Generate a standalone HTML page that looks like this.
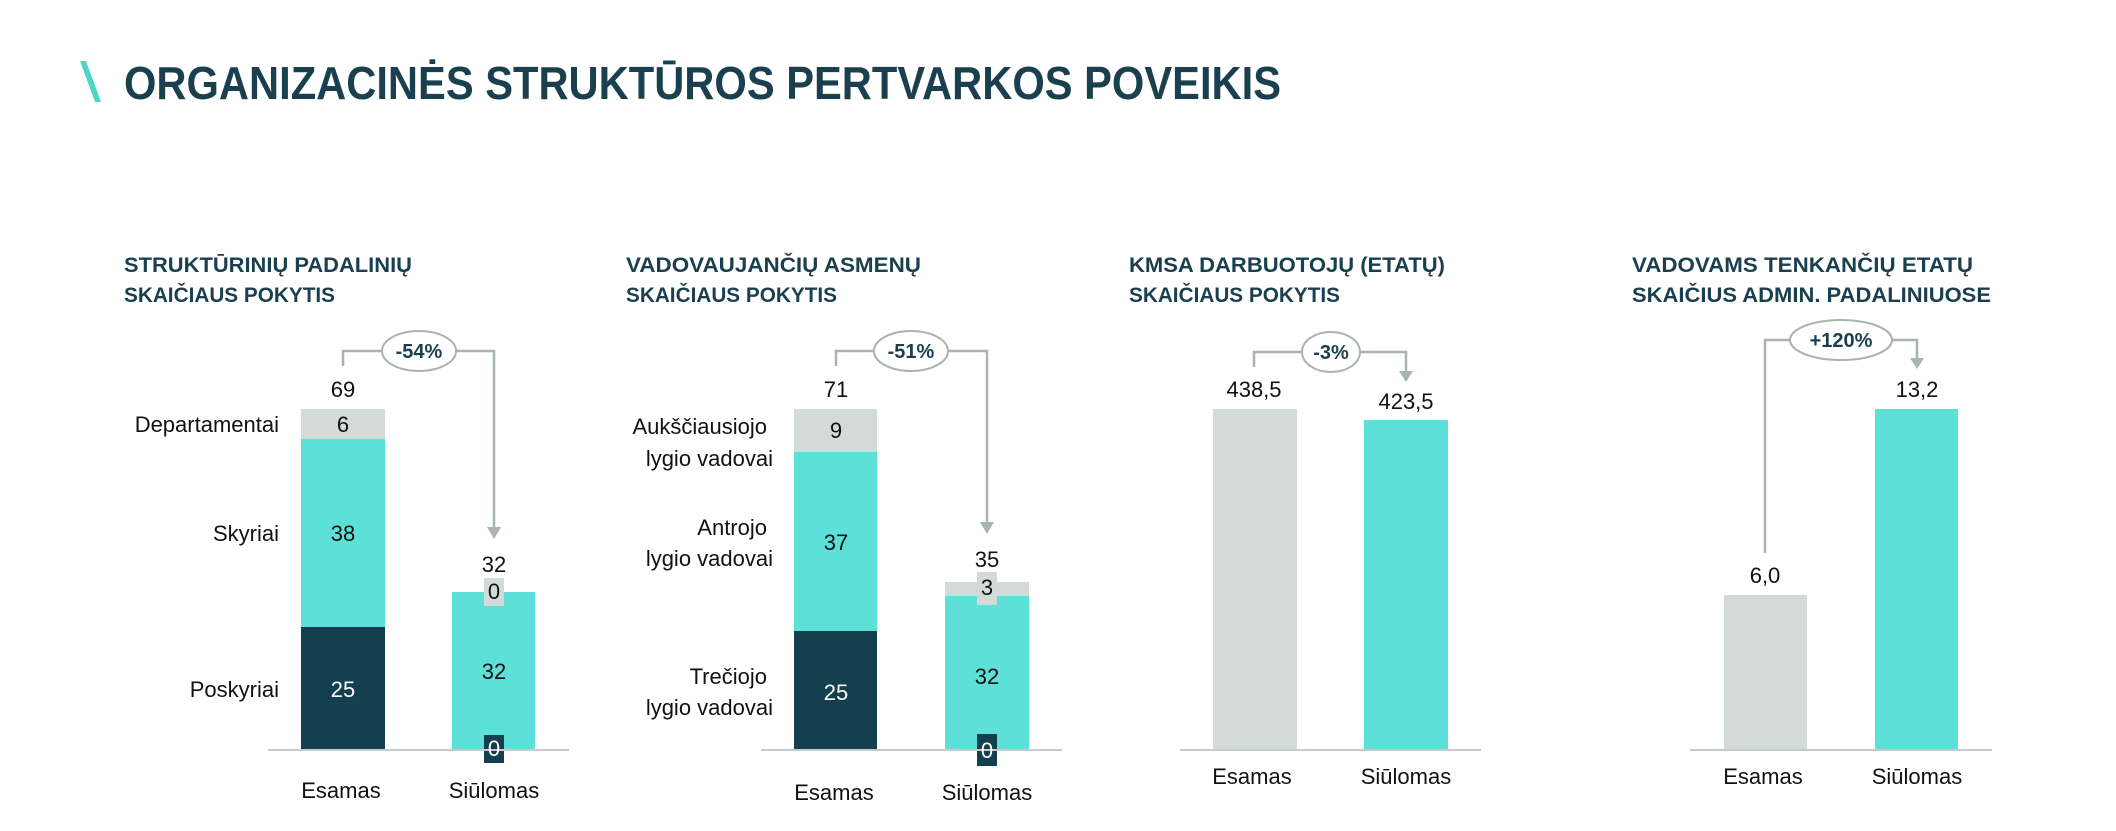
<!DOCTYPE html>
<html><head><meta charset="utf-8"><style>
html,body{margin:0;padding:0;background:#fff;overflow:hidden;}
svg{display:block;font-family:"Liberation Sans",sans-serif;}
.t{fill:#1a3f4e;font-weight:bold;}
.l{fill:#111;font-size:22px;}
.w{fill:#fff;font-size:22px;}
.c{stroke:#a9b3b1;stroke-width:2.5;fill:none;}
</style></head><body>
<svg width="2116" height="831" viewBox="0 0 2116 831">
<polygon points="80,61 86,61 101,102 95,102" fill="#4fd6c9"/>
<text class="t" x="124" y="99" font-size="46" textLength="1157" lengthAdjust="spacingAndGlyphs">ORGANIZACINĖS STRUKTŪROS PERTVARKOS POVEIKIS</text>

<g class="t" font-size="21">
<text x="124" y="272" textLength="288" lengthAdjust="spacingAndGlyphs">STRUKTŪRINIŲ PADALINIŲ</text>
<text x="124" y="302" textLength="211" lengthAdjust="spacingAndGlyphs">SKAIČIAUS POKYTIS</text>
<text x="626" y="272" textLength="295" lengthAdjust="spacingAndGlyphs">VADOVAUJANČIŲ ASMENŲ</text>
<text x="626" y="302" textLength="211" lengthAdjust="spacingAndGlyphs">SKAIČIAUS POKYTIS</text>
<text x="1129" y="272" textLength="316" lengthAdjust="spacingAndGlyphs">KMSA DARBUOTOJŲ (ETATŲ)</text>
<text x="1129" y="302" textLength="211" lengthAdjust="spacingAndGlyphs">SKAIČIAUS POKYTIS</text>
<text x="1632" y="272" textLength="341" lengthAdjust="spacingAndGlyphs">VADOVAMS TENKANČIŲ ETATŲ</text>
<text x="1632" y="302" textLength="359" lengthAdjust="spacingAndGlyphs">SKAIČIUS ADMIN. PADALINIUOSE</text>
</g>

<!-- Chart 1 -->
<rect x="301" y="409" width="84" height="30" fill="#d3dbd9"/>
<rect x="301" y="439" width="84" height="188" fill="#5ce0d8"/>
<rect x="301" y="627" width="84" height="123" fill="#133f4e"/>
<rect x="452" y="592" width="83" height="158" fill="#5ce0d8"/>
<rect x="484" y="578" width="20" height="28" fill="#d3dbd9"/>
<rect x="484" y="735" width="20" height="28" fill="#133f4e"/>
<line x1="268" y1="750" x2="569" y2="750" stroke="#c5cbca" stroke-width="2"/>
<polyline class="c" points="343,366 343,351 494,351 494,530"/>
<polygon points="487,527 501,527 494,539" fill="#a9b3b1"/>
<ellipse cx="419" cy="351" rx="37" ry="20" fill="#fff" stroke="#a9b3b1" stroke-width="2"/>
<text class="t" x="419" y="358" font-size="20" text-anchor="middle">-54%</text>
<g class="l" text-anchor="middle">
<text x="343" y="397">69</text><text x="343" y="432">6</text><text x="343" y="541">38</text>
<text x="494" y="572">32</text><text x="494" y="599">0</text><text x="494" y="679">32</text>
<text x="341" y="798">Esamas</text><text x="494" y="798">Siūlomas</text>
</g>
<text class="w" x="343" y="697" text-anchor="middle">25</text>
<text class="w" x="494" y="756" text-anchor="middle">0</text>
<g class="l" text-anchor="end">
<text x="279" y="432">Departamentai</text><text x="279" y="541">Skyriai</text><text x="279" y="697">Poskyriai</text>
</g>

<!-- Chart 2 -->
<rect x="794" y="409" width="83" height="43" fill="#d3dbd9"/>
<rect x="794" y="452" width="83" height="179" fill="#5ce0d8"/>
<rect x="794" y="631" width="83" height="119" fill="#133f4e"/>
<rect x="945" y="582" width="84" height="14" fill="#d3dbd9"/>
<rect x="945" y="596" width="84" height="154" fill="#5ce0d8"/>
<rect x="977" y="572" width="20" height="33" fill="#d3dbd9"/>
<rect x="977" y="734" width="20" height="32" fill="#133f4e"/>
<line x1="761" y1="750" x2="1062" y2="750" stroke="#c5cbca" stroke-width="2"/>
<polyline class="c" points="836,366 836,351 987,351 987,525"/>
<polygon points="980,522 994,522 987,534" fill="#a9b3b1"/>
<ellipse cx="911" cy="351" rx="37" ry="20" fill="#fff" stroke="#a9b3b1" stroke-width="2"/>
<text class="t" x="911" y="358" font-size="20" text-anchor="middle">-51%</text>
<g class="l" text-anchor="middle">
<text x="836" y="397">71</text><text x="836" y="438">9</text><text x="836" y="550">37</text>
<text x="987" y="567">35</text><text x="987" y="595">3</text><text x="987" y="684">32</text>
<text x="834" y="800">Esamas</text><text x="987" y="800">Siūlomas</text>
</g>
<text class="w" x="836" y="700" text-anchor="middle">25</text>
<text class="w" x="987" y="758" text-anchor="middle">0</text>
<g class="l" text-anchor="end">
<text x="767" y="434">Aukščiausiojo</text><text x="773" y="466">lygio vadovai</text>
<text x="767" y="535">Antrojo</text><text x="773" y="566">lygio vadovai</text>
<text x="767" y="684">Trečiojo</text><text x="773" y="715">lygio vadovai</text>
</g>

<!-- Chart 3 -->
<rect x="1213" y="409" width="84" height="341" fill="#d3dbd9"/>
<rect x="1364" y="420" width="84" height="330" fill="#5ce0d8"/>
<line x1="1180" y1="750" x2="1481" y2="750" stroke="#c5cbca" stroke-width="2"/>
<polyline class="c" points="1254,367 1254,352 1406,352 1406,374"/>
<polygon points="1399,371 1413,371 1406,382" fill="#a9b3b1"/>
<ellipse cx="1331" cy="352" rx="29" ry="20" fill="#fff" stroke="#a9b3b1" stroke-width="2"/>
<text class="t" x="1331" y="359" font-size="20" text-anchor="middle">-3%</text>
<g class="l" text-anchor="middle">
<text x="1254" y="397">438,5</text><text x="1406" y="409">423,5</text>
<text x="1252" y="784">Esamas</text><text x="1406" y="784">Siūlomas</text>
</g>

<!-- Chart 4 -->
<rect x="1724" y="595" width="83" height="155" fill="#d3dbd9"/>
<rect x="1875" y="409" width="83" height="341" fill="#5ce0d8"/>
<line x1="1690" y1="750" x2="1992" y2="750" stroke="#c5cbca" stroke-width="2"/>
<polyline class="c" points="1765,553 1765,340 1917,340 1917,361"/>
<polygon points="1910,358 1924,358 1917,369" fill="#a9b3b1"/>
<ellipse cx="1841" cy="340" rx="51" ry="20" fill="#fff" stroke="#a9b3b1" stroke-width="2"/>
<text class="t" x="1841" y="347" font-size="20" text-anchor="middle">+120%</text>
<g class="l" text-anchor="middle">
<text x="1765" y="583">6,0</text><text x="1917" y="397">13,2</text>
<text x="1763" y="784">Esamas</text><text x="1917" y="784">Siūlomas</text>
</g>
</svg>
</body></html>
